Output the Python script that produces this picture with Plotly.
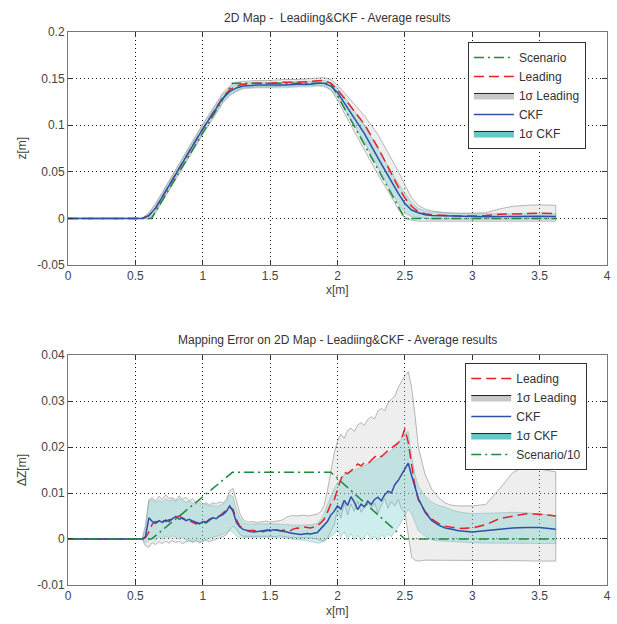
import plotly.graph_objects as go

# ---------------- data ----------------
X_TICKS = [0, 0.5, 1, 1.5, 2, 2.5, 3, 3.5, 4]
X_TICK_TEXT = ["0", "0.5", "1", "1.5", "2", "2.5", "3", "3.5", "4"]
TOP_Y_TICKS = [-0.05, 0, 0.05, 0.1, 0.15, 0.2]
TOP_Y_TEXT = ["-0.05", "0", "0.05", "0.1", "0.15", "0.2"]
BOT_Y_TICKS = [-0.01, 0, 0.01, 0.02, 0.03, 0.04]
BOT_Y_TEXT = ["-0.01", "0", "0.01", "0.02", "0.03", "0.04"]

# scenario (true profile)
SCN_X = [0, 0.62, 1.22, 1.95, 2.5, 3.62]
SCN_Z = [0, 0, 0.145, 0.145, 0, 0]
SCN_Z10 = [0, 0, 0.0145, 0.0145, 0, 0]

# top chart: averaged estimates and 1-sigma bounds
TX = [0, 0.55, 0.6, 0.65, 0.7, 0.8, 0.9, 1.0, 1.1, 1.15,
      1.2, 1.25, 1.3, 1.4, 1.5, 1.6, 1.7, 1.8, 1.85, 1.9,
      1.95, 2.0, 2.05, 2.1, 2.2, 2.3, 2.4, 2.45, 2.5, 2.55,
      2.6, 2.65, 2.7, 2.8, 2.9, 3.0, 3.1, 3.2, 3.3, 3.4,
      3.5, 3.62]
LEAD_Z = [0, 0, 0.003, 0.011, 0.023, 0.048, 0.072, 0.096, 0.119, 0.130,
          0.138, 0.142, 0.144, 0.145, 0.145, 0.146, 0.146, 0.147, 0.148, 0.148,
          0.145, 0.138, 0.129, 0.120, 0.101, 0.076, 0.048, 0.034, 0.022, 0.013,
          0.007, 0.005, 0.004, 0.003, 0.0025, 0.0025, 0.003, 0.0045, 0.005, 0.0055,
          0.0055, 0.005]
CKF_Z = [0, 0, 0.003, 0.011, 0.023, 0.048, 0.072, 0.096, 0.119, 0.129,
         0.136, 0.140, 0.142, 0.143, 0.143, 0.143, 0.144, 0.144, 0.145, 0.145,
         0.142, 0.135, 0.124, 0.113, 0.091, 0.065, 0.039, 0.027, 0.016, 0.009,
         0.006, 0.004, 0.003, 0.0025, 0.002, 0.0015, 0.0018, 0.002, 0.0022, 0.0023,
         0.0023, 0.002]
LEAD_Z_HI = [0, 0, 0.006, 0.016, 0.028, 0.053, 0.077, 0.101, 0.124, 0.135,
             0.142, 0.146, 0.147, 0.148, 0.148, 0.149, 0.149, 0.150, 0.151, 0.151,
             0.149, 0.143, 0.135, 0.127, 0.110, 0.090, 0.065, 0.051, 0.036, 0.022,
             0.014, 0.010, 0.008, 0.006, 0.0055, 0.0055, 0.006, 0.010, 0.013, 0.014,
             0.0145, 0.014]
LEAD_Z_LO = [0, 0, -0.001, 0.006, 0.018, 0.042, 0.066, 0.090, 0.113, 0.124,
             0.132, 0.137, 0.140, 0.141, 0.141, 0.142, 0.142, 0.143, 0.143, 0.142,
             0.138, 0.127, 0.113, 0.099, 0.073, 0.047, 0.023, 0.010, 0.0, -0.002,
             -0.003, -0.003, -0.003, -0.003, -0.003, -0.003, -0.003, -0.003, -0.003, -0.003,
             -0.003, -0.003]
CKF_Z_HI = [0, 0, 0.005, 0.015, 0.027, 0.052, 0.076, 0.100, 0.123, 0.133,
            0.140, 0.144, 0.145, 0.146, 0.146, 0.146, 0.147, 0.147, 0.148, 0.148,
            0.146, 0.140, 0.131, 0.121, 0.100, 0.075, 0.050, 0.038, 0.027, 0.017,
            0.011, 0.008, 0.007, 0.006, 0.0055, 0.005, 0.005, 0.005, 0.005, 0.005,
            0.005, 0.005]
CKF_Z_LO = [0, 0, 0.0, 0.007, 0.019, 0.044, 0.068, 0.092, 0.115, 0.125,
            0.132, 0.136, 0.139, 0.140, 0.140, 0.140, 0.141, 0.141, 0.142, 0.142,
            0.138, 0.130, 0.118, 0.105, 0.082, 0.055, 0.028, 0.016, 0.006, 0.002,
            0.001, 0.0, -0.001, -0.001, -0.001, -0.001, -0.001, -0.001, -0.001, -0.001,
            -0.001, -0.001]

# bottom chart: mapping error and 1-sigma bounds
BX = [0, 0.55, 0.575, 0.6, 0.625, 0.65, 0.675, 0.7, 0.725, 0.75,
      0.775, 0.8, 0.825, 0.85, 0.875, 0.9, 0.925, 0.95, 0.975, 1.0,
      1.025, 1.05, 1.075, 1.1, 1.125, 1.15, 1.175, 1.2, 1.225, 1.25,
      1.275, 1.3, 1.325, 1.35, 1.375, 1.4, 1.425, 1.45, 1.475, 1.5,
      1.525, 1.55, 1.575, 1.6, 1.625, 1.65, 1.675, 1.7, 1.725, 1.75,
      1.775, 1.8, 1.825, 1.85, 1.875, 1.9, 1.925, 1.95, 1.975, 2.0,
      2.025, 2.05, 2.075, 2.1, 2.125, 2.15, 2.175, 2.2, 2.225, 2.25,
      2.275, 2.3, 2.325, 2.35, 2.375, 2.4, 2.425, 2.45, 2.475, 2.5,
      2.525, 2.55, 2.575, 2.6, 2.65, 2.7, 2.75, 2.8, 2.85, 2.9,
      3.0, 3.1, 3.2, 3.3, 3.4, 3.5, 3.62]
LEAD_ERR = [0, 0, 0.0003, 0.0015, 0.0032, 0.0038, 0.0036, 0.0040, 0.0038, 0.0042,
            0.0043, 0.0046, 0.0050, 0.0044, 0.0042, 0.0040, 0.0036, 0.0033, 0.0036, 0.0039,
            0.0037, 0.0043, 0.0046, 0.0047, 0.0050, 0.0056, 0.0062, 0.0069, 0.0064, 0.0042,
            0.0028, 0.0022, 0.0019, 0.0018, 0.0019, 0.0017, 0.0018, 0.0016, 0.0019, 0.0020,
            0.0019, 0.0020, 0.0018, 0.0019, 0.0020, 0.0018, 0.0022, 0.0024, 0.0023, 0.0026,
            0.0025, 0.0024, 0.0026, 0.0029, 0.0035, 0.0043, 0.0058, 0.0076, 0.0085, 0.0110,
            0.0130, 0.0145, 0.0142, 0.0148, 0.0156, 0.0163, 0.0159, 0.0166, 0.0164, 0.0172,
            0.0178, 0.0183, 0.0179, 0.0186, 0.0192, 0.0198, 0.0204, 0.0209, 0.0218, 0.0240,
            0.0210, 0.0160, 0.0115, 0.0085, 0.0060, 0.0043, 0.0034, 0.0028, 0.0025, 0.0023,
            0.0024, 0.0031, 0.0044, 0.0050, 0.0055, 0.0054, 0.0050]
CKF_ERR = [0, 0, 0.0005, 0.0046, 0.0038, 0.0034, 0.0040, 0.0036, 0.0041, 0.0038,
           0.0044, 0.0049, 0.0043, 0.0046, 0.0040, 0.0043, 0.0039, 0.0036, 0.0033, 0.0038,
           0.0035, 0.0041, 0.0046, 0.0044, 0.0050, 0.0053, 0.0060, 0.0072, 0.0060, 0.0036,
           0.0026, 0.0021, 0.0018, 0.0016, 0.0015, 0.0016, 0.0017, 0.0018, 0.0019, 0.0018,
           0.0020, 0.0019, 0.0018, 0.0016, 0.0015, 0.0013, 0.0012, 0.0011, 0.0010, 0.0011,
           0.0012, 0.0011, 0.0013, 0.0014, 0.0022, 0.0031, 0.0038, 0.0052, 0.0060, 0.0072,
           0.0065, 0.0084, 0.0073, 0.0092, 0.0080, 0.0064, 0.0076, 0.0070, 0.0082, 0.0075,
           0.0086, 0.0091, 0.0083, 0.0096, 0.0104, 0.0100, 0.0118, 0.0127, 0.0139, 0.0154,
           0.0165, 0.0138, 0.0110, 0.0088, 0.0058, 0.0040, 0.0030, 0.0024, 0.0021, 0.0018,
           0.0015, 0.0018, 0.0022, 0.0024, 0.0025, 0.0025, 0.0021]
LEAD_ERR_HI = [0, 0, 0.0030, 0.0085, 0.0090, 0.0082, 0.0093, 0.0086, 0.0096, 0.0088,
               0.0090, 0.0084, 0.0094, 0.0086, 0.0091, 0.0083, 0.0088, 0.0077, 0.0085, 0.0076,
               0.0079, 0.0074, 0.0079, 0.0076, 0.0081, 0.0078, 0.0086, 0.0105, 0.0110, 0.0080,
               0.0056, 0.0042, 0.0038, 0.0037, 0.0038, 0.0036, 0.0037, 0.0038, 0.0039, 0.0037,
               0.0038, 0.0039, 0.0040, 0.0043, 0.0048, 0.0050, 0.0051, 0.0050, 0.0051, 0.0052,
               0.0050, 0.0051, 0.0052, 0.0054, 0.0059, 0.0072, 0.0105, 0.0148, 0.0186, 0.0213,
               0.0228, 0.0219, 0.0236, 0.0241, 0.0234, 0.0248, 0.0253, 0.0247, 0.0260, 0.0266,
               0.0261, 0.0278, 0.0284, 0.0279, 0.0296, 0.0304, 0.0310, 0.0329, 0.0343, 0.0355,
               0.0364, 0.0330, 0.0270, 0.0200, 0.0140, 0.0108, 0.0090, 0.0078, 0.0073, 0.0072,
               0.0072, 0.0075, 0.0108, 0.0144, 0.0160, 0.0152, 0.0146]
LEAD_ERR_LO = [0, 0, -0.0015, -0.0018, -0.0008, -0.0012, -0.0006, -0.0010, -0.0005, -0.0009,
               -0.0004, -0.0008, -0.0005, -0.0010, -0.0006, -0.0003, -0.0007, -0.0004, -0.0008, -0.0005,
               -0.0003, -0.0006, -0.0002, 0.0000, 0.0003, 0.0005, 0.0009, 0.0020, 0.0028, 0.0022,
               0.0010, 0.0006, 0.0005, 0.0005, 0.0006, 0.0005, 0.0006, 0.0005, 0.0006, 0.0006,
               0.0005, 0.0006, 0.0007, 0.0005, 0.0004, 0.0003, 0.0004, 0.0002, 0.0003, 0.0002,
               0.0003, 0.0002, 0.0001, 0.0000, -0.0003, -0.0004, 0.0002, 0.0015, 0.0030, 0.0065,
               0.0045, 0.0078, 0.0052, 0.0076, 0.0060, 0.0082, 0.0058, 0.0069, 0.0084, 0.0063,
               0.0079, 0.0056, 0.0074, 0.0088, 0.0067, 0.0081, 0.0072, 0.0086, 0.0065, 0.0058,
               0.0010, -0.0040, -0.0046, -0.0048, -0.0046, -0.0047, -0.0046, -0.0047, -0.0046, -0.0047,
               -0.0046, -0.0047, -0.0047, -0.0047, -0.0047, -0.0048, -0.0048]
CKF_ERR_HI = [0, 0, 0.0020, 0.0082, 0.0086, 0.0079, 0.0084, 0.0081, 0.0087, 0.0083,
              0.0086, 0.0082, 0.0088, 0.0084, 0.0080, 0.0083, 0.0078, 0.0075, 0.0079, 0.0073,
              0.0076, 0.0071, 0.0074, 0.0070, 0.0073, 0.0076, 0.0082, 0.0096, 0.0092, 0.0062,
              0.0046, 0.0036, 0.0033, 0.0032, 0.0033, 0.0033, 0.0034, 0.0033, 0.0034, 0.0033,
              0.0034, 0.0033, 0.0032, 0.0032, 0.0031, 0.0031, 0.0030, 0.0030, 0.0030, 0.0031,
              0.0030, 0.0031, 0.0032, 0.0034, 0.0042, 0.0055, 0.0074, 0.0094, 0.0110, 0.0122,
              0.0130, 0.0140, 0.0143, 0.0146, 0.0150, 0.0152, 0.0156, 0.0160, 0.0163, 0.0166,
              0.0170, 0.0174, 0.0178, 0.0182, 0.0186, 0.0192, 0.0200, 0.0209, 0.0219, 0.0230,
              0.0234, 0.0180, 0.0140, 0.0115, 0.0093, 0.0080, 0.0073, 0.0069, 0.0063, 0.0059,
              0.0055, 0.0056, 0.0058, 0.0058, 0.0057, 0.0055, 0.0051]
CKF_ERR_LO = [0, 0, -0.0008, -0.0003, 0.0003, -0.0004, 0.0005, 0.0000, 0.0006, 0.0002,
              0.0007, 0.0003, 0.0001, 0.0004, -0.0002, -0.0005, -0.0007, -0.0003, -0.0006, -0.0004,
              -0.0001, 0.0002, 0.0004, 0.0006, 0.0008, 0.0010, 0.0013, 0.0019, 0.0014, 0.0006,
              0.0003, 0.0003, 0.0003, 0.0004, 0.0003, 0.0004, 0.0003, 0.0004, 0.0004, 0.0003,
              0.0004, 0.0003, 0.0002, 0.0002, 0.0001, 0.0001, 0.0000, -0.0001, -0.0002, -0.0003,
              -0.0004, -0.0005, -0.0007, -0.0009, -0.0008, -0.0005, 0.0000, 0.0006, 0.0010, 0.0020,
              0.0004, 0.0016, -0.0003, 0.0012, -0.0002, 0.0008, -0.0005, 0.0004, 0.0013, -0.0002,
              0.0006, -0.0004, 0.0009, 0.0002, 0.0011, 0.0005, 0.0018, 0.0025, 0.0038, 0.0050,
              0.0065, 0.0055, 0.0035, 0.0018, 0.0006, -0.0002, -0.0004, -0.0005, -0.0006, -0.0007,
              -0.0008, -0.0009, -0.0009, -0.0010, -0.0010, -0.0010, -0.0010]

for arr in (LEAD_ERR, CKF_ERR, LEAD_ERR_HI, LEAD_ERR_LO, CKF_ERR_HI, CKF_ERR_LO):
    assert len(arr) == len(BX), len(arr)
for arr in (LEAD_Z, CKF_Z, LEAD_Z_HI, LEAD_Z_LO, CKF_Z_HI, CKF_Z_LO):
    assert len(arr) == len(TX), len(arr)

# ---------------- styles ----------------
FONT = "Liberation Sans, Arial, sans-serif"
GREEN = "#1f8a3c"
RED = "#e8202a"
BLUE = "#2f4fa8"
GRAY_FILL = "rgba(200,200,200,0.30)"
GRAY_EDGE = "rgba(150,150,150,0.85)"
CYAN_FILL = "rgba(102,200,200,0.32)"
CYAN_EDGE = "rgba(120,165,165,0.5)"
LEG_GRAY = "#c8c8c8"
LEG_CYAN = "#66c8c8"
DASH_RED = "10px,5px"
DASH_GREEN = "10px,4px,2px,4px"
TEXT_COLOR = "#444"

fig = go.Figure()


def band(x, lo, hi, fill, edge, xa, ya):
    xs = list(x) + list(x)[::-1]
    ys = list(hi) + list(lo)[::-1]
    fig.add_trace(go.Scatter(x=xs, y=ys, mode="lines", fill="toself",
                             fillcolor=fill, line=dict(color=edge, width=0.8),
                             hoverinfo="skip", showlegend=False,
                             xaxis=xa, yaxis=ya))


def line(x, y, color, dash, name, xa, ya, leg, rank, width=1.5):
    fig.add_trace(go.Scatter(x=x, y=y, mode="lines", name=name,
                             line=dict(color=color, dash=dash, width=width),
                             xaxis=xa, yaxis=ya, legend=leg, legendrank=rank))


def patch(color, name, xa, ya, leg, rank):
    fig.add_trace(go.Scatter(x=[None], y=[None], mode="lines", fill="toself",
                             fillcolor=color, line=dict(color="#222", width=1),
                             name=name, xaxis=xa, yaxis=ya, legend=leg,
                             legendrank=rank))


# top chart
band(TX, LEAD_Z_LO, LEAD_Z_HI, GRAY_FILL, GRAY_EDGE, "x", "y")
band(TX, CKF_Z_LO, CKF_Z_HI, CYAN_FILL, CYAN_EDGE, "x", "y")
line(SCN_X, SCN_Z, GREEN, DASH_GREEN, "Scenario", "x", "y", "legend", 1)
line(TX, LEAD_Z, RED, DASH_RED, "Leading", "x", "y", "legend", 2)
patch(LEG_GRAY, "1σ Leading", "x", "y", "legend", 3)
line(TX, CKF_Z, BLUE, None, "CKF", "x", "y", "legend", 4)
patch(LEG_CYAN, "1σ CKF", "x", "y", "legend", 5)

# bottom chart
band(BX, LEAD_ERR_LO, LEAD_ERR_HI, GRAY_FILL, GRAY_EDGE, "x2", "y2")
band(BX, CKF_ERR_LO, CKF_ERR_HI, CYAN_FILL, CYAN_EDGE, "x2", "y2")
line(BX, LEAD_ERR, RED, DASH_RED, "Leading", "x2", "y2", "legend2", 1)
patch(LEG_GRAY, "1σ Leading", "x2", "y2", "legend2", 2)
line(BX, CKF_ERR, BLUE, None, "CKF", "x2", "y2", "legend2", 3)
patch(LEG_CYAN, "1σ CKF", "x2", "y2", "legend2", 4)
line(SCN_X, SCN_Z10, GREEN, DASH_GREEN, "Scenario/10", "x2", "y2", "legend2", 5)

axis_common = dict(showgrid=True, gridcolor="#111", griddash="1px,3px", gridwidth=1,
                   zeroline=False, showline=True, linecolor="#777", linewidth=1,
                   mirror="allticks", ticks="inside", ticklen=5, tickcolor="#333",
                   automargin=False,
                   tickfont=dict(family=FONT, size=12, color=TEXT_COLOR))

LEGEND_FONT = dict(family=FONT, size=12, color="#333")

fig.update_layout(
    width=617, height=624,
    margin=dict(l=68, r=10, t=32, b=39),
    paper_bgcolor="white", plot_bgcolor="white",
    font=dict(family=FONT, size=12, color="#333"),
    xaxis=dict(domain=[0, 1], range=[0, 4], tickvals=X_TICKS, ticktext=X_TICK_TEXT,
               anchor="y", **axis_common),
    yaxis=dict(domain=[0.5787, 1], range=[-0.05, 0.2], tickvals=TOP_Y_TICKS,
               ticktext=TOP_Y_TEXT, anchor="x", **axis_common),
    xaxis2=dict(domain=[0, 1], range=[0, 4], tickvals=X_TICKS, ticktext=X_TICK_TEXT,
                anchor="y2", **axis_common),
    yaxis2=dict(domain=[0, 0.4159], range=[-0.01, 0.04], tickvals=BOT_Y_TICKS,
                ticktext=BOT_Y_TEXT, anchor="x2", **axis_common),
    legend=dict(x=0.742, y=0.982, xanchor="left", yanchor="top",
                bgcolor="white", bordercolor="#333", borderwidth=1,
                font=LEGEND_FONT, itemwidth=40, tracegroupgap=0),
    legend2=dict(x=0.737, y=0.4014, xanchor="left", yanchor="top",
                 bgcolor="white", bordercolor="#333", borderwidth=1,
                 font=LEGEND_FONT, itemwidth=40, tracegroupgap=0),
    annotations=[
        dict(text="2D Map -  Leadiing&CKF - Average results", xref="paper", yref="paper",
             x=0.5, y=1.0253, xanchor="center", yanchor="middle", showarrow=False,
             font=dict(family=FONT, size=12, color="#333")),
        dict(text="Mapping Error on 2D Map - Leadiing&CKF - Average results",
             xref="paper", yref="paper", x=0.5, y=0.443, xanchor="center",
             yanchor="middle", showarrow=False,
             font=dict(family=FONT, size=12, color="#333")),
        dict(text="x[m]", xref="paper", yref="paper", x=0.5, y=0.5787 - 25 / 553,
             xanchor="center", yanchor="middle", showarrow=False,
             font=dict(family=FONT, size=12, color=TEXT_COLOR)),
        dict(text="x[m]", xref="paper", yref="paper", x=0.5, y=-26 / 553,
             xanchor="center", yanchor="middle", showarrow=False,
             font=dict(family=FONT, size=12, color=TEXT_COLOR)),
        dict(text="z[m]", xref="paper", yref="paper", x=-46 / 539, y=0.5787 + 0.4213 / 2,
             xanchor="center", yanchor="middle", showarrow=False, textangle=-90,
             font=dict(family=FONT, size=12, color=TEXT_COLOR)),
        dict(text="ΔZ[m]", xref="paper", yref="paper", x=-46 / 539, y=0.4159 / 2,
             xanchor="center", yanchor="middle", showarrow=False, textangle=-90,
             font=dict(family=FONT, size=12, color=TEXT_COLOR)),
    ],
)

fig.write_html("out.html", config={"displayModeBar": False},
               post_script="document.body.style.margin='0';document.body.style.padding='0';")
